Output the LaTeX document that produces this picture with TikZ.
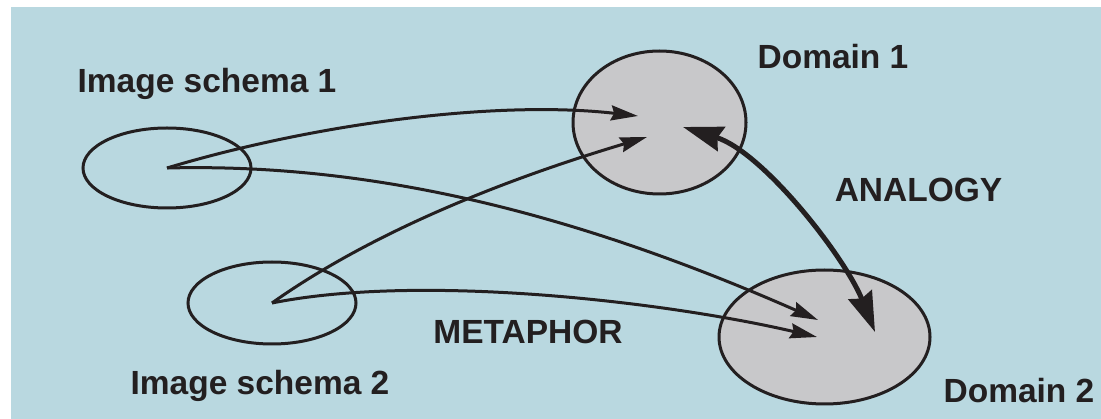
\documentclass[tikz,border=0pt]{standalone}
\usepackage{fontspec}
\setmainfont{Liberation Sans}
\usetikzlibrary{arrows.meta,shapes.geometric}
\definecolor{bgblue}{RGB}{185,216,224}
\definecolor{domgray}{RGB}{200,200,202}
\definecolor{ink}{RGB}{35,31,32}
\tikzset{
  schemabox/.style={ellipse,draw=ink,line width=3pt,inner sep=0pt,outer sep=0pt},
  domainbox/.style={schemabox,fill=domgray},
  lbl/.style={text=ink,font=\fontsize{33.5}{40}\selectfont\bfseries,inner sep=0pt,anchor=base},
  maparrow/.style={draw=ink,line width=3pt,-{Stealth[length=27pt,width=15pt,inset=3pt]}},
  analogyarrow/.style={draw=ink,line width=5pt,{Stealth[length=40pt,width=25pt,inset=4pt]}-{Stealth[length=40pt,width=25pt,inset=4pt]}}
}
\begin{document}
\begin{tikzpicture}[x=1pt,y=-1pt]
\useasboundingbox (0,0) rectangle (1101,419);
\fill[bgblue] (11,7) rectangle (1101,419);
% ellipses
\node[schemabox,minimum width=168pt,minimum height=80pt] (is1) at (167,168) {};
\node[schemabox,minimum width=168pt,minimum height=82pt] (is2) at (272,303) {};
\node[domainbox,minimum width=173pt,minimum height=143pt] (d1) at (659.5,122.5) {};
\node[domainbox,minimum width=211pt,minimum height=134pt] (d2) at (824.5,337) {};
% arrow targets
\coordinate (t1a) at (638,116);
\coordinate (t1b) at (647,137);
\coordinate (t1c) at (683,127);
\coordinate (t2a) at (818,320);
\coordinate (t2b) at (817,337);
\coordinate (t2c) at (875,332);
% labels
\node[lbl] (l1) at (207,93) {Image schema 1};
\node[lbl] (l2) at (260,395) {Image schema 2};
\node[lbl] (l3) at (833,69) {Domain 1};
\node[lbl] (l4) at (1019,403) {Domain 2};
\node[lbl] (l5) at (918.5,201.5) {ANALOGY};
\node[lbl] (l6) at (528,344) {METAPHOR};
% metaphor arrows
\draw[maparrow] (is1.center) .. controls +(150,-45) and +(-140,-16) .. (t1a);
\draw[maparrow] (is1.center) .. controls +(200,-5) and +(-250,-110) .. (t2a);
\draw[maparrow] (is2.center) .. controls +(120,-85) and +(-100,30) .. (t1b);
\draw[maparrow] (is2.center) .. controls +(150,-30) and +(-150,-35) .. (t2b);
% analogy arrow
\draw[analogyarrow] (t1c) .. controls +(80,25) and +(-30,-75) .. (t2c);
\end{tikzpicture}
\end{document}
